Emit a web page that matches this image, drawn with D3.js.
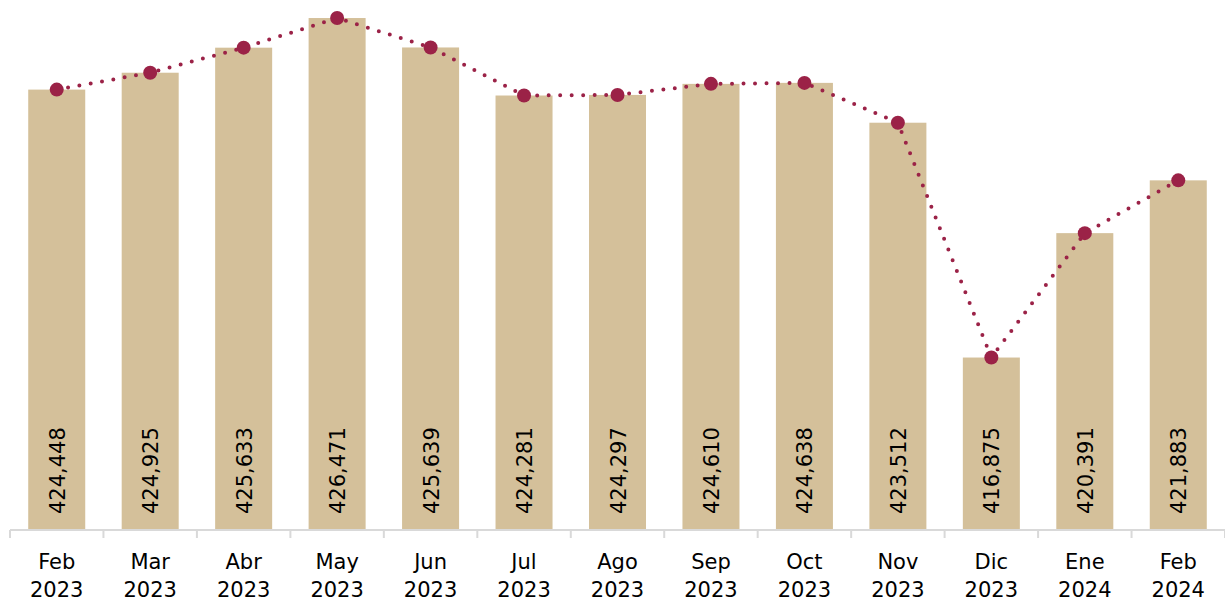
<!DOCTYPE html>
<html><head><meta charset="utf-8">
<script src="https://cdn.jsdelivr.net/npm/d3@7"></script>
<style>body{margin:0;background:#fff}svg{display:block}text{font-family:"DejaVu Sans","Noto Sans",sans-serif}</style>
</head><body>
<svg id="c" width="1225" height="602"></svg>
<script>
const months = ["Feb","Mar","Abr","May","Jun","Jul","Ago","Sep","Oct","Nov","Dic","Ene","Feb"];
const years = ["2023","2023","2023","2023","2023","2023","2023","2023","2023","2023","2023","2024","2024"];
const values = [424448,424925,425633,426471,425639,424281,424297,424610,424638,423512,416875,420391,421883];
const yDomain = [412000, 426500];

const svg = d3.select("#c");
const idx = d3.range(values.length);
const x = d3.scaleBand().domain(idx).range([10, 1225]).paddingInner(0.39).paddingOuter(0.195);
const y = d3.scaleLinear().domain(yDomain).range([530, 17]);

svg.append("g").selectAll("rect").data(idx).join("rect")
  .attr("x", i => x(i)).attr("width", x.bandwidth())
  .attr("y", i => y(values[i])).attr("height", i => 530 - y(values[i]))
  .attr("fill", "#d4c09a");

// axis
const ax = svg.append("g").attr("transform", "translate(0,530)");
ax.append("line").attr("x1", 10).attr("x2", 1225).attr("stroke", "#d9d9d9").attr("stroke-width", 2);
const step = x.step();
ax.selectAll("line.t").data(d3.range(values.length + 1)).join("line").attr("class", "t")
  .attr("x1", i => 10 + i * step).attr("x2", i => 10 + i * step)
  .attr("y1", 0).attr("y2", 8).attr("stroke", "#d9d9d9").attr("stroke-width", 2);
const lab = ax.selectAll("text").data(idx).join("text")
  .attr("x", i => x(i) + x.bandwidth() / 2).attr("text-anchor", "middle")
  .attr("font-size", 21).attr("fill", "#000");
lab.append("tspan").attr("x", i => x(i) + x.bandwidth() / 2).attr("y", 39).text(i => months[i]);
lab.append("tspan").attr("x", i => x(i) + x.bandwidth() / 2).attr("y", 67).text(i => years[i]);

// value labels
const fmt = d3.format(",");
svg.append("g").selectAll("text").data(idx).join("text")
  .attr("transform", i => `translate(${x(i) + x.bandwidth() / 2 + 8},514) rotate(-90)`)
  .attr("font-size", 21).attr("fill", "#000").attr("text-anchor", "start")
  .text(i => fmt(values[i]));

// line
const line = d3.line().x(i => x(i) + x.bandwidth() / 2).y(i => y(values[i])).curve(d3.curveLinear);
svg.append("path").attr("d", line(idx)).attr("fill", "none").attr("stroke", "#9b2247")
  .attr("stroke-width", 4).attr("stroke-linecap", "round").attr("stroke-linejoin", "round")
  .attr("stroke-dasharray", "0,11.5");
svg.append("g").selectAll("circle").data(idx).join("circle")
  .attr("cx", i => x(i) + x.bandwidth() / 2).attr("cy", i => y(values[i])).attr("r", 7)
  .attr("fill", "#9b2247");
</script>
</body></html>
